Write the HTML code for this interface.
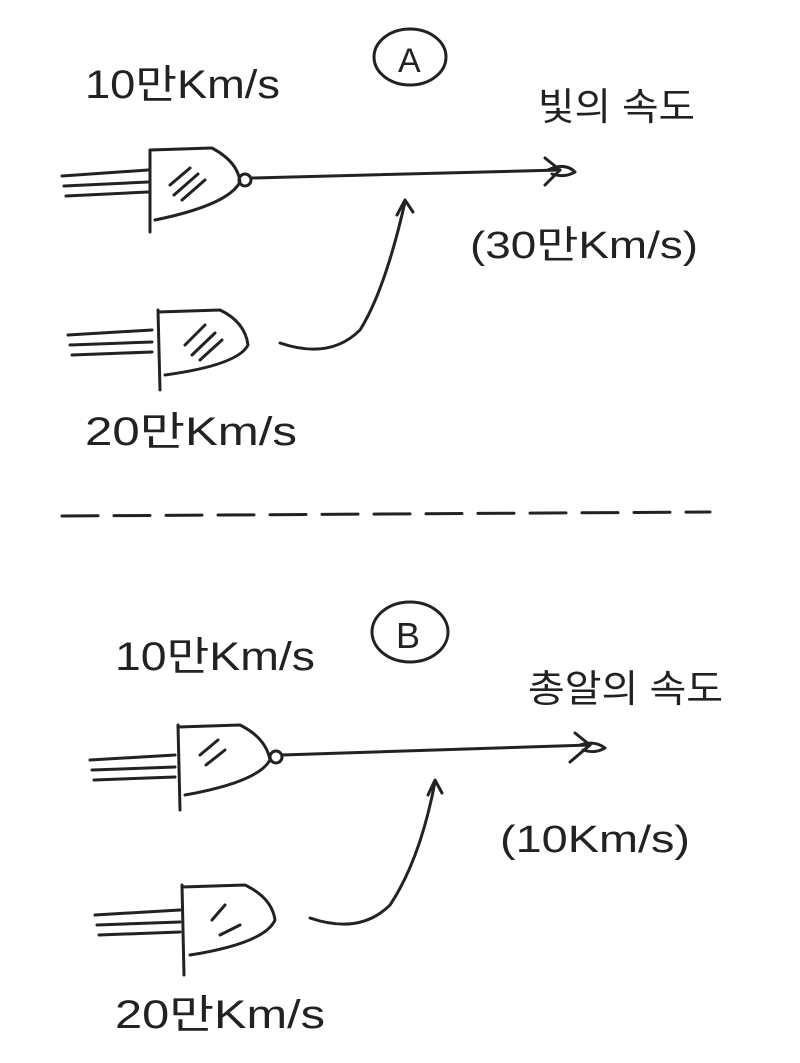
<!DOCTYPE html>
<html><head><meta charset="utf-8"><style>
html,body{margin:0;padding:0;background:#fff;}
svg{display:block;}
text{font-family:"Liberation Sans","Noto Sans CJK KR",sans-serif;fill:#222;}
</style></head><body>
<svg width="800" height="1063" viewBox="0 0 800 1063" xmlns="http://www.w3.org/2000/svg">
<rect width="800" height="1063" fill="#fff"/>
<g stroke="#222" stroke-width="3" fill="none" stroke-linecap="round" stroke-linejoin="round">
<ellipse cx="410" cy="57" rx="36" ry="28"/>
<path d="M62 176 L148 170 M64 186 L148 182 M66 196 L148 192"/>
<path d="M150 150 L150 232 M150 150 L212 148 Q238 162 240 182 Q228 205 155 220"/>
<path d="M170 185 L190 168 M174 195 L198 174 M182 200 L205 180"/>
<circle cx="245" cy="180" r="6"/>
<path d="M252 178 L560 170"/>
<path d="M545 158 L560 170 L545 185 M548 170 Q565 162 575 172 Q565 178 552 174"/>
<path d="M280 343 Q330 360 360 330 Q385 290 405 202"/>
<path d="M397 215 L405 200 L413 212"/>
<path d="M68 335 L152 330 M70 345 L152 342 M72 355 L152 352"/>
<path d="M158 310 L160 390 M158 312 L220 310 Q245 322 248 345 Q238 365 165 375"/>
<path d="M185 345 L205 325 M192 355 L215 333 M200 360 L222 340"/>
<path d="M62 516 L710 512" stroke-dasharray="36 16"/>
<ellipse cx="410" cy="632" rx="38" ry="30"/>
<path d="M90 760 L175 755 M92 770 L175 767 M94 780 L175 777"/>
<path d="M178 725 L180 810 M178 727 L240 725 Q266 738 270 760 Q258 782 185 795"/>
<path d="M200 755 L218 740 M206 765 L225 750"/>
<circle cx="276" cy="757" r="6"/>
<path d="M282 755 L590 745"/>
<path d="M575 733 L590 745 L570 762 M580 745 Q595 740 605 748 Q595 754 583 750"/>
<path d="M310 918 Q360 935 390 905 Q420 860 435 782"/>
<path d="M428 795 L435 780 L442 793"/>
<path d="M95 915 L180 910 M97 925 L180 922 M99 935 L180 932"/>
<path d="M182 885 L184 975 M182 887 L245 885 Q272 898 275 920 Q265 943 190 955"/>
<path d="M212 920 L225 905 M220 935 L240 925"/>
</g>
<g font-size="40">
<text x="85" y="98" textLength="195" lengthAdjust="spacingAndGlyphs">10만Km/s</text>
<text x="398" y="72" font-size="34">A</text>
<text x="538" y="120" font-size="38" textLength="157" lengthAdjust="spacingAndGlyphs">빛의 속도</text>
<text x="470" y="258" font-size="38" textLength="228" lengthAdjust="spacingAndGlyphs">(30만Km/s)</text>
<text x="85" y="445" textLength="212" lengthAdjust="spacingAndGlyphs">20만Km/s</text>
<text x="115" y="670" textLength="200" lengthAdjust="spacingAndGlyphs">10만Km/s</text>
<text x="396" y="648" font-size="36">B</text>
<text x="528" y="702" font-size="38" textLength="195" lengthAdjust="spacingAndGlyphs">총알의 속도</text>
<text x="500" y="852" font-size="38" textLength="190" lengthAdjust="spacingAndGlyphs">(10Km/s)</text>
<text x="115" y="1028" textLength="210" lengthAdjust="spacingAndGlyphs">20만Km/s</text>
</g>
</svg>
</body></html>
